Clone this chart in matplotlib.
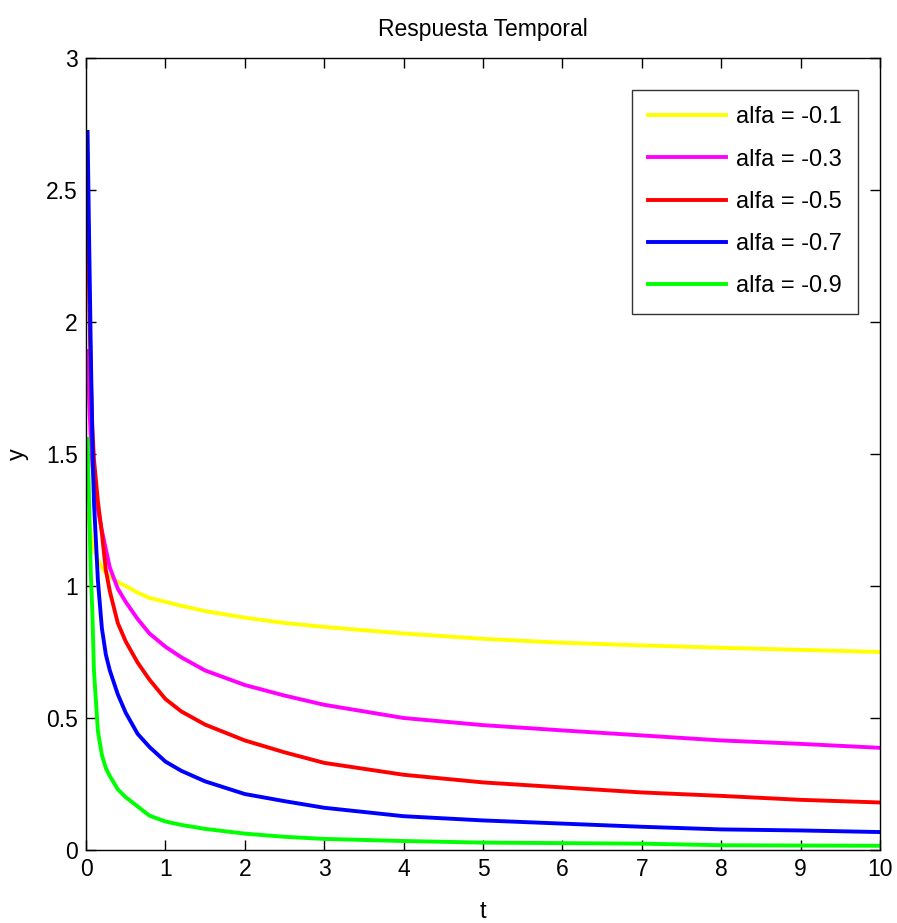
import matplotlib
matplotlib.use("Agg")
import matplotlib.pyplot as plt

plt.rcParams['font.family'] = ['Liberation Sans', 'DejaVu Sans']

t = [0.02, 0.04, 0.06, 0.08, 0.1, 0.15, 0.2, 0.25, 0.3, 0.4, 0.5, 0.65, 0.8, 1.0, 1.2, 1.5, 2.0,
     2.5, 3, 4, 5, 6, 7, 8, 9, 10]

y_01 = [1.27, 1.25, 1.20, 1.16, 1.14, 1.10, 1.07, 1.05, 1.035, 1.015, 1.00, 0.975, 0.955, 0.94,
        0.925, 0.905, 0.88, 0.86, 0.845, 0.82, 0.80, 0.785, 0.775, 0.766, 0.758, 0.75]
y_03 = [1.89, 1.70, 1.56, 1.46, 1.40, 1.29, 1.21, 1.14, 1.07, 0.99, 0.94, 0.875, 0.82, 0.77,
        0.73, 0.68, 0.625, 0.585, 0.55, 0.50, 0.473, 0.453, 0.434, 0.415, 0.402, 0.387]
y_05 = [2.52, 2.10, 1.80, 1.60, 1.48, 1.32, 1.20, 1.06, 0.98, 0.86, 0.79, 0.71, 0.645, 0.572,
        0.525, 0.475, 0.415, 0.37, 0.33, 0.285, 0.256, 0.237, 0.218, 0.205, 0.19, 0.18]
y_07 = [2.72, 2.30, 1.90, 1.55, 1.32, 1.02, 0.84, 0.74, 0.68, 0.59, 0.52, 0.44, 0.39, 0.335,
        0.30, 0.26, 0.212, 0.185, 0.16, 0.128, 0.112, 0.10, 0.088, 0.078, 0.074, 0.068]
y_09 = [1.557, 1.30, 1.05, 0.90, 0.68, 0.45, 0.36, 0.31, 0.28, 0.23, 0.20, 0.165, 0.13, 0.108,
        0.095, 0.08, 0.062, 0.05, 0.042, 0.034, 0.028, 0.026, 0.024, 0.018, 0.017, 0.016]

labels = ['alfa = -0.1', 'alfa = -0.3', 'alfa = -0.5', 'alfa = -0.7', 'alfa = -0.9']
colors = ['#ffff00', '#ff00ff', '#ff0000', '#0000ff', '#00ff00']
series = [y_01, y_03, y_05, y_07, y_09]

fig = plt.figure(figsize=(8.97, 9.23), dpi=100)
ax = fig.add_axes([86/897, 73/923, 794/897, 792/923])

for ys, c, lab in zip(series, colors, labels):
    ax.plot(t, ys, color=c, lw=2.8, label=lab)

ax.set_xlim(0, 10)
ax.set_ylim(0, 3)
ax.set_xticks(range(0, 11))
ax.set_yticks([0, 0.5, 1, 1.5, 2, 2.5, 3])
ax.set_yticklabels(['0', '0.5', '1', '1.5', '2', '2.5', '3'])
ax.tick_params(direction='in', length=7, width=1, top=True, right=True, labelsize=16.5, pad=6)
for s in ax.spines.values():
    s.set_linewidth(1.0)
ax.set_title('Respuesta Temporal', fontsize=16.5, pad=16)
ax.set_xlabel('t', fontsize=17, labelpad=14)
ax.set_ylabel('y', fontsize=17, labelpad=12)

leg = ax.legend(loc='upper right', bbox_to_anchor=(0.9725, 0.96), fontsize=17, frameon=True,
                fancybox=False, edgecolor='black', handlelength=3.3, handletextpad=0.4,
                labelspacing=0.86, borderpad=0.7, borderaxespad=0)
leg.get_frame().set_linewidth(1.0)

fig.savefig('out.png', dpi=100)
